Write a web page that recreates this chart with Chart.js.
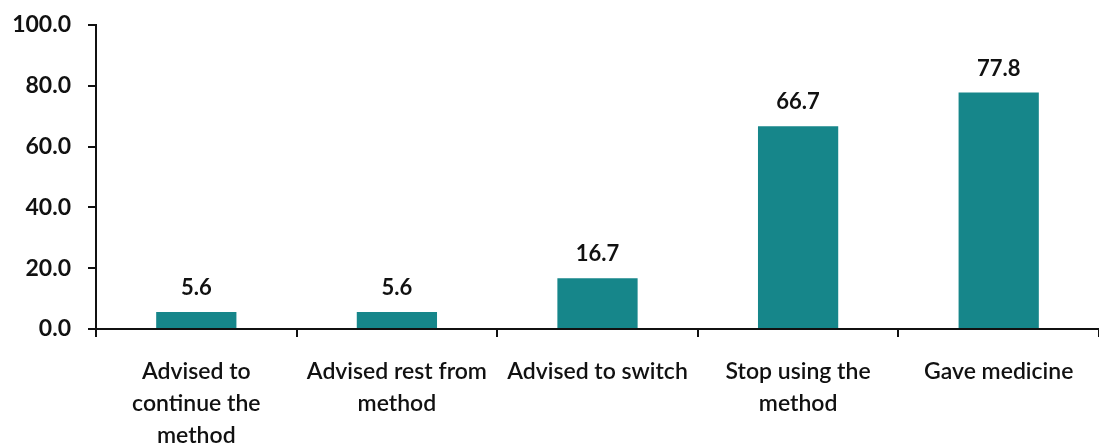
<!DOCTYPE html>
<html>
<head>
<meta charset="utf-8">
<script src="https://cdn.jsdelivr.net/npm/chart.js@4"></script>
<style>
  html, body { margin: 0; padding: 0; background: #fff; }
  #wrap { width: 1099px; height: 446px; }
</style>
</head>
<body>
<div id="wrap"><canvas id="chart"></canvas></div>
<script>
const categories = [
  ["Advised to", "continue the", "method"],
  ["Advised rest from", "method"],
  ["Advised to switch"],
  ["Stop using the", "method"],
  ["Gave medicine"]
];
const values = [5.6, 5.6, 16.7, 66.7, 77.8];

// draws the value above each bar
const valueLabels = {
  id: "valueLabels",
  afterDatasetsDraw(chart) {
    const ctx = chart.ctx;
    const meta = chart.getDatasetMeta(0);
    ctx.save();
    ctx.font = "bold 22px Lato";
    ctx.fillStyle = "#111";
    ctx.textAlign = "center";
    ctx.textBaseline = "middle";
    meta.data.forEach((bar, i) => {
      ctx.fillText(values[i].toFixed(1), bar.x, bar.y - 24);
    });
    ctx.restore();
  }
};

new Chart(document.getElementById("chart"), {
  type: "bar",
  data: {
    labels: categories,
    datasets: [{
      data: values,
      backgroundColor: "#16868a",
      categoryPercentage: 0.4,
      barPercentage: 1
    }]
  },
  options: {
    responsive: true,
    maintainAspectRatio: false,
    animation: false,
    layout: { padding: { top: 25, right: 0, left: 0, bottom: 0 } },
    plugins: {
      legend: { display: false },
      tooltip: { enabled: false }
    },
    scales: {
      x: {
        grid: { drawOnChartArea: false, drawTicks: true, tickLength: 8, color: "#111", lineWidth: 2, offset: true },
        border: { color: "#111", width: 2 },
        ticks: {
          color: "#111",
          font: { family: "Lato", size: 23, weight: "600", lineHeight: 1.4 },
          padding: 18,
          maxRotation: 0,
          autoSkip: false
        },
        afterFit: (s) => { s.height = 117; }
      },
      y: {
        min: 0,
        max: 100,
        grid: { drawOnChartArea: false, drawTicks: true, tickLength: 8, color: "#111", lineWidth: 2 },
        border: { color: "#111", width: 2 },
        ticks: {
          stepSize: 20,
          color: "#111",
          font: { family: "Lato", size: 23, weight: "bold", lineHeight: 0.6 },
          padding: 17,
          callback: (v) => v.toFixed(1)
        },
        afterFit: (s) => { s.width = 96; s.paddingTop = 0; }
      }
    }
  },
  plugins: [valueLabels]
});
</script>
</body>
</html>
